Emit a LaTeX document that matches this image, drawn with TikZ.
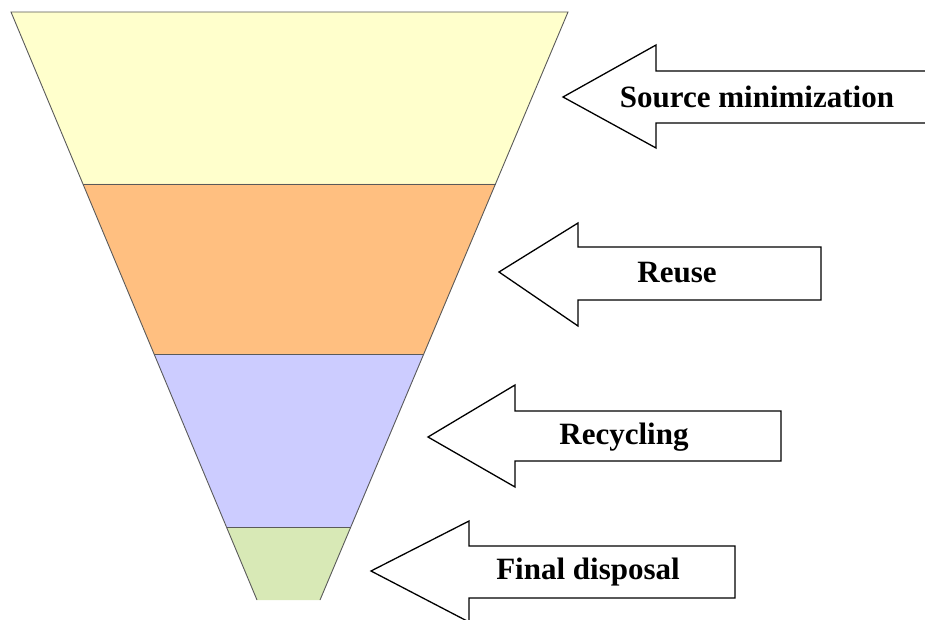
\documentclass[tikz,border=0pt]{standalone}
\usepackage{fontspec}
\setmainfont{Liberation Serif}
\definecolor{fyellow}{HTML}{FFFFCC}
\definecolor{forange}{HTML}{FFBF80}
\definecolor{fpurple}{HTML}{CCCCFF}
\definecolor{fgreen}{HTML}{D8E9B6}
\definecolor{fedge}{HTML}{5A5A5A}
\begin{document}
\begin{tikzpicture}[x=1pt,y=-1pt,
  band/.style={draw=fedge,line width=0.9pt,line join=miter},
  arrowshape/.style={draw=black,line width=1.3pt,fill=white,line join=miter},
  lbl/.style={font=\fontsize{31}{34}\selectfont\bfseries,inner sep=0pt}]
\useasboundingbox (0,0) rectangle (925,620);
\clip (0,0) rectangle (925,620);
% funnel bands
\fill[fyellow] (11,12) -- (568,12) -- (495.5,184) -- (83,184) -- cycle;
\fill[forange] (83,184) -- (495.5,184) -- (424,354) -- (154,354) -- cycle;
\fill[fpurple] (154,354) -- (424,354) -- (351,527) -- (226.5,527) -- cycle;
\fill[fgreen] (226.5,527) -- (351,527) -- (320,600) -- (257,600) -- cycle;
\draw[band] (257,600) -- (11,12) -- (568,12) -- (320,600);
\draw[band] (83,184) -- (495.5,184);
\draw[band] (154,354) -- (424,354);
\draw[band] (226.5,527) -- (351,527);
% arrows
\draw[arrowshape] (930,71) -- (656,71) -- (656,45) -- (563,97) -- (656,148) -- (656,123) -- (930,123);
\draw[arrowshape] (821,247) -- (578,247) -- (578,223) -- (499,272) -- (578,326) -- (578,300) -- (821,300) -- cycle;
\draw[arrowshape] (781,411) -- (515,411) -- (515,385) -- (428,437) -- (515,487) -- (515,461) -- (781,461) -- cycle;
\draw[arrowshape] (735,546) -- (469,546) -- (469,521) -- (371,571) -- (469,622) -- (469,598) -- (735,598) -- cycle;
% labels
\node[lbl] (src) at (757,97) {Source minimization};
\node[lbl] (reu) at (677,273) {Reuse};
\node[lbl] (rec) at (624,437) {Recycling};
\node[lbl] (fin) at (588,572) {Final disposal};
\end{tikzpicture}
\end{document}
